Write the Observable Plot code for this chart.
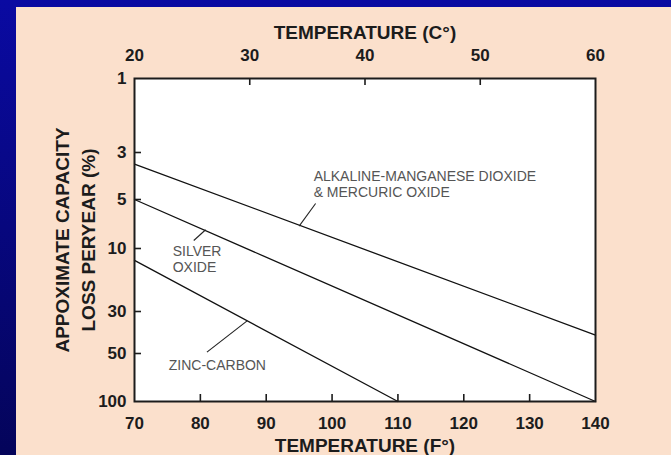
<!DOCTYPE html>
<html>
<head>
<meta charset="utf-8">
<script src="https://cdn.jsdelivr.net/npm/d3@7"></script>
<script src="https://cdn.jsdelivr.net/npm/@observablehq/plot@0.6"></script>
<style>
  html, body { margin: 0; padding: 0; width: 671px; height: 455px; overflow: hidden; }
  body { background: linear-gradient(#0a0aa2, #04045a); position: relative; }
  #panel { position: absolute; left: 16px; top: 7px; width: 655px; height: 448px; background: #fbe0cc; }
</style>
</head>
<body>
<div id="panel"></div>
<script>
// Axis ticks
const fahrenheitTicks = [70, 80, 90, 100, 110, 120, 130, 140];
const celsiusTicks = [20, 30, 40, 50, 60];
const lossTicks = [1, 3, 5, 10, 30, 50, 100];

// Battery chemistries: straight lines from start to end temperature (°F) and loss (%)
const batteries = ["Alkaline-manganese dioxide & mercuric oxide", "Silver oxide", "Zinc-carbon"];
const tempStart = [70, 70, 70];
const tempEnd = [140, 140, 110];
const lossStart = [3.4, 5, 12.3];
const lossEnd = [40, 100, 100];

// Curve labels with their leader lines (°F, %)
const noteText = ["ALKALINE-MANGANESE DIOXIDE\n& MERCURIC OXIDE", "SILVER\nOXIDE", "ZINC-CARBON"];
const noteTemp = [97.2, 75.8, 75.2];
const noteLoss = [4.22, 11.9, 58.7];
const leaderFrom = [[97.5, 5.29], [79.0, 8.93], [81.0, 49.2]];
const leaderTo = [[95.0, 7.29], [80.8, 7.67], [87.1, 33.6]];

const lines = batteries.flatMap((battery, i) => [
  {battery, temp: tempStart[i], loss: lossStart[i]},
  {battery, temp: tempEnd[i], loss: lossEnd[i]}
]);
const notes = noteText.map((text, i) => ({text, temp: noteTemp[i], loss: noteLoss[i]}));
const leaders = leaderFrom.map((a, i) => ({x1: a[0], y1: a[1], x2: leaderTo[i][0], y2: leaderTo[i][1]}));

const W = 655, H = 448;
const M = {top: 71, right: 76, bottom: 54, left: 118};
const innerW = W - M.left - M.right;
const innerH = H - M.top - M.bottom;
// the log axis is ruled by hand: each loss tick sits at its own offset below the frame top
const lossTickOffsets = [0, 74, 121, 170, 233, 275, innerH];
const tickLen = 7;
const ink = "#1c1c1c";
const font = "'Liberation Sans', Arial, Helvetica, sans-serif";

// The Celsius scale on top runs across the same frame as 70–140 °F
const c2f = c => 70 + (c - 20) * (140 - 70) / (60 - 20);

const label = {fontWeight: "bold", fill: ink, lineAnchor: "middle"};

const chart = Plot.plot({
  width: W,
  height: H,
  marginTop: M.top,
  marginRight: M.right,
  marginBottom: M.bottom,
  marginLeft: M.left,
  style: {background: "#fbe0cc", fontFamily: font, overflow: "visible"},
  x: {domain: [70, 140], axis: null},
  y: {type: "log", domain: lossTicks, range: lossTickOffsets.map(o => M.top + o), axis: null},
  marks: [
    Plot.frame({fill: "white"}),
    Plot.line(lines, {x: "temp", y: "loss", z: "battery", stroke: "#111", strokeWidth: 1.3}),
    Plot.link(leaders, {x1: "x1", y1: "y1", x2: "x2", y2: "y2", stroke: "#222", strokeWidth: 1.1}),
    Plot.text(notes, {x: "temp", y: "loss", text: "text", textAnchor: "start", lineHeight: 1.15,
      fontSize: 14, fill: "#555"}),
    // inward ticks
    Plot.tickX(fahrenheitTicks.slice(1, -1), {x: d => d, insetTop: innerH - tickLen, stroke: ink, strokeWidth: 1.6}),
    Plot.tickX(celsiusTicks.slice(1, -1), {x: c2f, insetBottom: innerH - tickLen, stroke: ink, strokeWidth: 1.6}),
    Plot.tickY(lossTicks.slice(1, -1), {y: d => d, insetRight: innerW - tickLen, stroke: ink, strokeWidth: 1.6}),
    Plot.frame({stroke: ink, strokeWidth: 2}),
    // tick labels
    Plot.text(fahrenheitTicks, {x: d => d, frameAnchor: "bottom", dy: 22, text: d => String(d),
      textAnchor: "middle", fontSize: 17, ...label}),
    Plot.text(celsiusTicks, {x: c2f, frameAnchor: "top", dy: -23, text: d => String(d),
      textAnchor: "middle", fontSize: 17, ...label}),
    Plot.text(lossTicks, {y: d => d, frameAnchor: "left", dx: -8, textAnchor: "end", text: d => String(d),
      fontSize: 17, ...label}),
    // axis titles
    Plot.text(["TEMPERATURE (F°)"], {frameAnchor: "bottom", dy: 44, text: d => d,
      textAnchor: "middle", fontSize: 19, ...label}),
    Plot.text(["TEMPERATURE (C°)"], {frameAnchor: "top", dy: -46, text: d => d,
      textAnchor: "middle", fontSize: 19, ...label}),
    Plot.text(["APPOXIMATE CAPACITY"], {frameAnchor: "left", dx: -72, rotate: -90, text: d => d,
      textAnchor: "middle", fontSize: 19, ...label}),
    Plot.text(["LOSS PERYEAR (%)"], {frameAnchor: "left", dx: -46, rotate: -90, text: d => d,
      textAnchor: "middle", fontSize: 19, ...label})
  ]
});
document.getElementById("panel").appendChild(chart);
</script>
</body>
</html>
